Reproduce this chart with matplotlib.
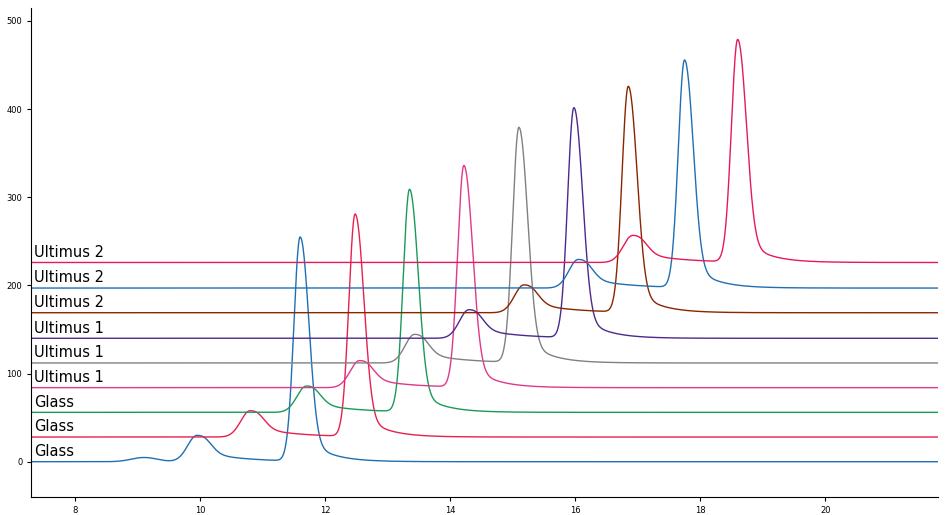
import numpy as np
import matplotlib.pyplot as plt

labels = ["Glass", "Glass", "Glass", "Ultimus 1", "Ultimus 1", "Ultimus 1",
          "Ultimus 2", "Ultimus 2", "Ultimus 2"]
colors = ["#1f6fb4", "#e8204f", "#1a9a5a", "#e0388a", "#808080", "#4b2a8f",
          "#8b2500", "#1f6fb4", "#e6195a"]
baselines = [0, 28, 56, 84, 112, 140, 169, 197, 226]
small_x = [9.95, 10.8, 11.7, 12.55, 13.43, 14.3, 15.18, 16.05, 16.92]
small_h = [35, 35, 35, 36, 38, 38, 37, 38, 36]
big_x = [11.6, 12.48, 13.35, 14.22, 15.1, 15.98, 16.85, 17.75, 18.6]
big_h = [268, 266, 266, 265, 281, 275, 270, 272, 266]


def peak(x, c, h, sl, sr, tail, tf):
    s = np.where(x < c, sl, sr)
    g = np.exp(-0.5 * ((x - c) / s) ** 2)
    t = np.where(x > c, np.exp(-(x - c) / tail) * (1 - np.exp(-((x - c) / sr) ** 2)), 0)
    return h * ((1 - tf) * g + tf * t) / (1 - tf * 0.6)


x = np.linspace(7.3, 21.8, 4000)
fig, ax = plt.subplots(figsize=(9.5, 5.15), dpi=100)
for i in range(len(labels)):
    y = baselines[i] + peak(x, small_x[i], small_h[i], 0.15, 0.17, 0.6, 0.3) \
        + peak(x, big_x[i], big_h[i], 0.1, 0.13, 0.35, 0.12)
    if i == 0:
        y = y + peak(x, 9.1, 5, 0.2, 0.2, 0.3, 0.1)
    ax.plot(x, y, color=colors[i], lw=1)
    ax.text(7.35, baselines[i] + 3, labels[i], fontsize=10.5, va="bottom")

ax.set_xlim(7.3, 21.8)
ax.set_ylim(-40, 515)
ax.set_xticks([8, 10, 12, 14, 16, 18, 20])
ax.set_yticks([0, 100, 200, 300, 400, 500])
ax.tick_params(labelsize=6, length=3)
for s in ["top", "right"]:
    ax.spines[s].set_visible(False)
plt.subplots_adjust(left=0.033, right=0.987, top=0.985, bottom=0.035)
plt.savefig("out.png")
